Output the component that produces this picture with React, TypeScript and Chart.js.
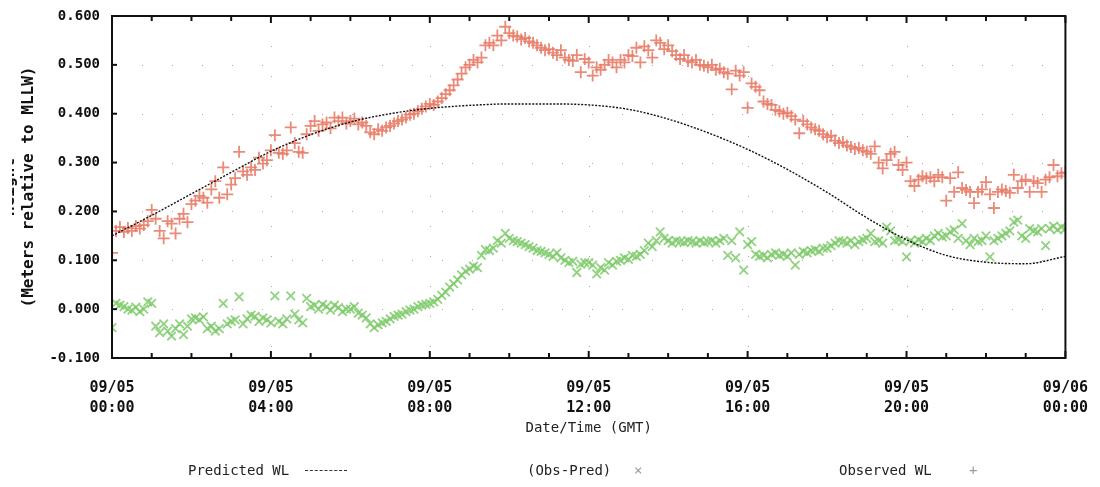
import React, { useEffect, useRef } from 'react';
import { Chart, registerables } from 'chart.js';

Chart.register(...registerables);

// x axis labels (every 4 hours)
const tickDates = ['09/05', '09/05', '09/05', '09/05', '09/05', '09/05', '09/06'];
const tickTimes = ['00:00', '04:00', '08:00', '12:00', '16:00', '20:00', '00:00'];
const yTicks = [-0.1, 0, 0.1, 0.2, 0.3, 0.4, 0.5, 0.6];

// predicted water level, hourly 00:00 .. 24:00
const predictedWL = [
  0.150, 0.192, 0.236, 0.280, 0.323, 0.357, 0.383, 0.400, 0.411, 0.417,
  0.420, 0.420, 0.418, 0.409, 0.389, 0.361, 0.327, 0.286, 0.239, 0.187,
  0.142, 0.110, 0.096, 0.093, 0.108,
];

// observed water level, 6-minute samples (one row per hour)
const observedWL = [
  0.115, 0.160, 0.168, 0.158, 0.166, 0.160, 0.170, 0.165, 0.172, 0.180,
  0.203, 0.185, 0.160, 0.145, 0.180, 0.175, 0.155, 0.185, 0.195, 0.178,
  0.215, 0.222, 0.232, 0.228, 0.218, 0.245, 0.262, 0.228, 0.290, 0.235,
  0.255, 0.268, 0.322, 0.282, 0.275, 0.290, 0.285, 0.310, 0.298, 0.305,
  0.325, 0.356, 0.320, 0.318, 0.325, 0.372, 0.340, 0.322, 0.320, 0.358,
  0.375, 0.385, 0.365, 0.378, 0.382, 0.370, 0.392, 0.385, 0.392, 0.380,
  0.385, 0.390, 0.378, 0.382, 0.375, 0.362, 0.358, 0.368, 0.365, 0.372,
  0.375, 0.380, 0.385, 0.388, 0.392, 0.398, 0.400, 0.405, 0.410, 0.415,
  0.420, 0.418, 0.425, 0.432, 0.440, 0.448, 0.458, 0.470, 0.482, 0.495,
  0.500, 0.510, 0.505, 0.515, 0.540, 0.545, 0.540, 0.560, 0.550, 0.578,
  0.565, 0.560, 0.558, 0.552, 0.555, 0.548, 0.545, 0.540, 0.535, 0.530,
  0.532, 0.525, 0.520, 0.530, 0.515, 0.510, 0.508, 0.520, 0.485, 0.512,
  0.505, 0.478, 0.495, 0.490, 0.500, 0.510, 0.505, 0.495, 0.510, 0.505,
  0.520, 0.518, 0.535, 0.505, 0.538, 0.530, 0.515, 0.550, 0.545, 0.532,
  0.540, 0.528, 0.520, 0.512, 0.520, 0.508, 0.505, 0.510, 0.500, 0.498,
  0.495, 0.500, 0.490, 0.492, 0.485, 0.482, 0.450, 0.488, 0.478, 0.485,
  0.412, 0.462, 0.455, 0.448, 0.425, 0.420, 0.418, 0.408, 0.405, 0.400,
  0.402, 0.395, 0.388, 0.360, 0.385, 0.378, 0.372, 0.368, 0.365, 0.358,
  0.352, 0.355, 0.345, 0.340, 0.342, 0.335, 0.332, 0.328, 0.330, 0.325,
  0.322, 0.318, 0.333, 0.300, 0.288, 0.305, 0.318, 0.322, 0.295, 0.285,
  0.300, 0.262, 0.252, 0.265, 0.272, 0.268, 0.270, 0.262, 0.275, 0.270,
  0.222, 0.268, 0.240, 0.280, 0.248, 0.244, 0.240, 0.217, 0.240, 0.245,
  0.260, 0.235, 0.207, 0.240, 0.245, 0.242, 0.238, 0.275, 0.248, 0.262,
  0.265, 0.240, 0.262, 0.258, 0.240, 0.265, 0.270, 0.295, 0.272, 0.278,
  0.280,
];

// observed minus predicted, 6-minute samples
const obsMinusPred = [
  -0.038, 0.012, 0.008, 0.005, 0.000, -0.002, 0.004, -0.005, 0.000, 0.015,
  0.012, -0.035, -0.048, -0.030, -0.045, -0.055, -0.040, -0.030, -0.052, -0.035,
  -0.020, -0.018, -0.022, -0.016, -0.040, -0.035, -0.045, -0.040, 0.012, -0.030,
  -0.025, -0.022, 0.025, -0.030, -0.020, -0.012, -0.015, -0.025, -0.018, -0.022,
  -0.028, 0.027, -0.025, -0.030, -0.020, 0.027, -0.010, -0.022, -0.028, 0.022,
  0.005, 0.008, 0.000, 0.010, 0.005, -0.002, 0.008, 0.003, -0.005, 0.000,
  0.000, 0.005, -0.008, -0.012, -0.018, -0.030, -0.038, -0.032, -0.028, -0.025,
  -0.020, -0.015, -0.012, -0.010, -0.005, -0.002, 0.000, 0.005, 0.008, 0.010,
  0.012, 0.015, 0.020, 0.028, 0.035, 0.045, 0.052, 0.060, 0.070, 0.078,
  0.082, 0.088, 0.085, 0.110, 0.122, 0.120, 0.125, 0.140, 0.135, 0.155,
  0.145, 0.140, 0.138, 0.135, 0.132, 0.128, 0.125, 0.120, 0.118, 0.115,
  0.112, 0.108, 0.115, 0.105, 0.100, 0.095, 0.098, 0.075, 0.092, 0.095,
  0.095, 0.090, 0.072, 0.085, 0.080, 0.095, 0.090, 0.098, 0.100, 0.105,
  0.102, 0.110, 0.108, 0.112, 0.120, 0.135, 0.128, 0.140, 0.158, 0.145,
  0.140, 0.135, 0.140, 0.138, 0.136, 0.140, 0.138, 0.135, 0.140, 0.136,
  0.138, 0.140, 0.135, 0.140, 0.145, 0.110, 0.140, 0.105, 0.158, 0.080,
  0.132, 0.138, 0.112, 0.108, 0.110, 0.105, 0.112, 0.115, 0.110, 0.112,
  0.108, 0.115, 0.090, 0.112, 0.118, 0.115, 0.120, 0.122, 0.118, 0.125,
  0.125, 0.130, 0.135, 0.140, 0.138, 0.135, 0.140, 0.132, 0.138, 0.142,
  0.145, 0.155, 0.138, 0.140, 0.135, 0.168, 0.160, 0.140, 0.142, 0.138,
  0.107, 0.140, 0.135, 0.142, 0.138, 0.145, 0.140, 0.150, 0.155, 0.148,
  0.150, 0.158, 0.162, 0.145, 0.175, 0.140, 0.132, 0.145, 0.138, 0.140,
  0.150, 0.107, 0.140, 0.145, 0.150, 0.155, 0.160, 0.178, 0.182, 0.150,
  0.145, 0.165, 0.160, 0.158, 0.165, 0.130, 0.165, 0.170, 0.162, 0.168,
  0.165,
];

const SAMPLE_STEP_H = 0.1; // 6 minutes
const FONT = "'DejaVu Sans Mono', monospace";

const framePlugin = {
  id: 'frame',
  beforeDatasetsDraw(chart: any) {
    const { ctx, chartArea: a, scales } = chart;
    ctx.save();
    ctx.strokeStyle = 'rgba(0,0,0,0.35)';
    ctx.lineWidth = 1;
    ctx.setLineDash([1, 29]);
    yTicks.slice(1, -1).forEach((v) => {
      const py = Math.round(scales.y.getPixelForValue(v)) + 0.5;
      ctx.beginPath(); ctx.moveTo(a.left, py); ctx.lineTo(a.right, py); ctx.stroke();
    });
    for (let h = 4; h < 24; h += 4) {
      const px = Math.round(scales.x.getPixelForValue(h)) + 0.5;
      ctx.beginPath(); ctx.moveTo(px, a.top); ctx.lineTo(px, a.bottom); ctx.stroke();
    }
    ctx.restore();
  },
  afterDatasetsDraw(chart: any) {
    const { ctx, chartArea: a, scales } = chart;
    ctx.save();
    ctx.strokeStyle = '#111';
    ctx.lineWidth = 2;
    ctx.strokeRect(a.left, a.top, a.width, a.height);
    const line = (x1: number, y1: number, x2: number, y2: number) => {
      ctx.beginPath(); ctx.moveTo(x1, y1); ctx.lineTo(x2, y2); ctx.stroke();
    };
    for (let h = 0; h <= 24; h++) {
      const px = scales.x.getPixelForValue(h);
      const len = h % 4 === 0 ? 7 : 5;
      line(px, a.bottom, px, a.bottom - len);
      line(px, a.top, px, a.top + len);
    }
    yTicks.forEach((v) => {
      const py = scales.y.getPixelForValue(v);
      line(a.left, py, a.left + 5, py);
    });
    ctx.restore();
  },
};

const legendText: React.CSSProperties = {
  position: 'absolute',
  top: 461,
  fontFamily: FONT,
  fontSize: 14,
  lineHeight: '18px',
  color: '#222',
  whiteSpace: 'pre',
};

const App: React.FC = () => {
  const canvasRef = useRef<HTMLCanvasElement>(null);

  useEffect(() => {
    if (!canvasRef.current) return;
    const chart = new Chart(canvasRef.current, {
      type: 'scatter',
      data: {
        datasets: [
          {
            label: 'Predicted WL',
            data: predictedWL.map((v, i) => ({ x: i, y: v })),
            showLine: true,
            borderColor: '#111',
            borderWidth: 1.4,
            borderDash: [2, 1.5],
            pointRadius: 0,
            tension: 0.4,
            cubicInterpolationMode: 'monotone',
          },
          {
            label: '(Obs-Pred)',
            data: obsMinusPred.map((v, i) => ({ x: i * SAMPLE_STEP_H, y: v })),
            pointStyle: 'crossRot',
            pointRadius: 6,
            borderWidth: 1.8,
            borderColor: 'rgba(125,202,105,0.85)',
            backgroundColor: 'rgba(125,202,105,0.85)',
          },
          {
            label: 'Observed WL',
            data: observedWL.map((v, i) => ({ x: i * SAMPLE_STEP_H, y: v })),
            pointStyle: 'cross',
            pointRadius: 6,
            borderWidth: 1.8,
            borderColor: 'rgba(232,125,105,0.9)',
            backgroundColor: 'rgba(232,125,105,0.9)',
          },
        ],
      },
      options: {
        animation: false,
        responsive: false,
        events: [],
        layout: { padding: { left: 0, right: 24, top: 16, bottom: 47 } },
        plugins: { legend: { display: false }, tooltip: { enabled: false } },
        scales: {
          x: {
            type: 'linear',
            min: 0,
            max: 24,
            grid: { display: false },
            border: { display: false },
            afterFit: (s: any) => { s.height = 82; },
            ticks: {
              stepSize: 4,
              padding: 12,
              maxRotation: 0,
              color: '#111',
              font: { family: FONT, size: 15, weight: 'bold', lineHeight: 20 / 15 },
              callback: (v: any) => {
                const i = Math.round(Number(v) / 4);
                return [tickDates[i], tickTimes[i]];
              },
            },
            title: {
              display: true,
              text: 'Date/Time (GMT)',
              color: '#222',
              padding: { top: 0, bottom: 3 },
              font: { family: FONT, size: 14 },
            },
          },
          y: {
            min: -0.1,
            max: 0.6,
            grid: { display: false },
            border: { display: false },
            afterFit: (s: any) => { s.width = 112; },
            ticks: {
              stepSize: 0.1,
              padding: 4,
              color: '#111',
              font: { family: FONT, size: 14, weight: 'bold' },
              callback: (v: any) => {
                const n = Number(v);
                return (Math.abs(n) < 1e-9 ? 0 : n).toFixed(3);
              },
            },
            title: {
              display: true,
              text: ['Height', '(Meters relative to MLLW)'],
              color: '#111',
              padding: { top: 0, bottom: 0 },
              font: { family: FONT, size: 16, weight: 'bold' },
            },
          },
        },
      },
      plugins: [framePlugin],
    });
    return () => chart.destroy();
  }, []);

  return (
    <div style={{ position: 'fixed', left: 0, top: 0, width: 1100, height: 487, background: '#fff' }}>
      <canvas ref={canvasRef} width={1100} height={487} style={{ display: 'block' }} />
      {/* the first title line is cut off in the original */}
      <div style={{ position: 'absolute', left: 0, top: 120, width: 12, height: 140, background: '#fff' }} />
      <span style={{ ...legendText, left: 188 }}>Predicted WL</span>
      <span style={{ position: 'absolute', left: 305, top: 470, width: 42, borderTop: '1px dashed #333' }} />
      <span style={{ ...legendText, left: 527 }}>(Obs-Pred)</span>
      <span style={{ ...legendText, left: 634, color: '#9a9a9a' }}>×</span>
      <span style={{ ...legendText, left: 839 }}>Observed WL</span>
      <span style={{ ...legendText, left: 969, color: '#9a9a9a' }}>+</span>
    </div>
  );
};

export default App;
